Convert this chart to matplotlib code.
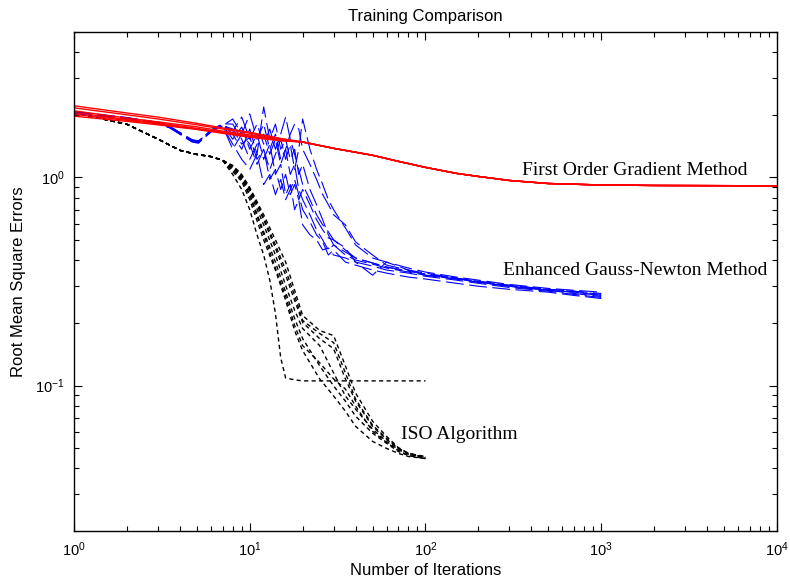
import matplotlib.pyplot as plt
from matplotlib.ticker import NullFormatter

plt.rcParams['font.family'] = ['Liberation Sans', 'DejaVu Sans']
plt.rcParams['mathtext.default'] = 'regular'

# ---- first order gradient method (red) ----
red_head_x = [1, 2, 3, 5, 7, 10, 15, 20]
red_runs_head = [
    [2.21, 2.04, 1.95, 1.82, 1.73, 1.65, 1.54, 1.48],
    [2.16, 2.00, 1.91, 1.79, 1.71, 1.63, 1.53, 1.48],
    [2.09, 1.93, 1.85, 1.75, 1.67, 1.60, 1.52, 1.48],
    [2.05, 1.90, 1.83, 1.72, 1.65, 1.58, 1.51, 1.48],
    [2.01, 1.88, 1.81, 1.71, 1.64, 1.57, 1.51, 1.48],
    [1.97, 1.86, 1.79, 1.70, 1.63, 1.56, 1.50, 1.48],
]
red_tail_x = [30, 50, 70, 100, 150, 200, 300, 500, 1000, 2000, 5000, 10000]
red_tail = [1.38, 1.278, 1.195, 1.118, 1.046, 1.011, 0.967, 0.935, 0.92, 0.915, 0.913, 0.912]

# ---- enhanced Gauss-Newton method (blue) ----
blue_x = [1, 2, 3, 3.5, 4.7, 5.1, 6, 7,
          8, 9, 10, 11, 12, 13, 14, 15, 16, 17, 18, 19, 20, 22, 24, 26, 28, 30,
          35, 40, 50, 60, 80, 100, 150, 200, 300, 500, 700, 1000]
blue_runs = [
    [2.06, 1.93, 1.83, 1.75, 1.49, 1.48, 1.67, 1.79,
     1.527, 1.746, 1.366, 1.615, 1.222, 1.445, 1.034, 1.156, 0.827, 0.925, 0.700, 0.782, 0.592,
     0.530, 0.501, 0.448, 0.458, 0.424, 0.410, 0.392, 0.375, 0.359, 0.347, 0.335, 0.321, 0.310,
     0.296, 0.284, 0.274, 0.265],
    [2.04, 1.92, 1.82, 1.74, 1.50, 1.47, 1.66, 1.77,
     1.909, 1.615, 2.018, 1.527, 1.805, 1.366, 1.615, 1.222, 1.366, 1.034, 1.156, 0.875, 0.782,
     0.662, 0.560, 0.501, 0.448, 0.474, 0.424, 0.401, 0.383, 0.367, 0.351, 0.339, 0.325, 0.314,
     0.300, 0.287, 0.281, 0.271],
    [2.07, 1.94, 1.84, 1.76, 1.51, 1.49, 1.68, 1.80,
     1.615, 1.366, 1.708, 1.292, 2.181, 1.527, 1.805, 1.366, 1.527, 1.222, 1.366, 1.034, 1.156,
     0.875, 0.740, 0.626, 0.530, 0.474, 0.438, 0.410, 0.388, 0.371, 0.355, 0.343, 0.328, 0.317,
     0.303, 0.290, 0.284, 0.277],
    [2.05, 1.93, 1.82, 1.73, 1.48, 1.46, 1.65, 1.78,
     1.708, 1.445, 1.561, 1.222, 1.366, 1.093, 1.292, 1.527, 1.222, 1.445, 1.093, 1.366, 1.909,
     1.366, 1.093, 0.925, 0.782, 0.700, 0.572, 0.474, 0.410, 0.392, 0.367, 0.351, 0.332, 0.321,
     0.306, 0.293, 0.287, 0.281],
    [2.06, 1.92, 1.83, 1.75, 1.50, 1.48, 1.67, 1.76,
     1.445, 1.222, 1.093, 1.292, 0.925, 1.034, 0.827, 0.978, 0.782, 0.875, 0.978, 0.827, 0.700,
     0.612, 0.530, 0.490, 0.424, 0.448, 0.392, 0.379, 0.359, 0.347, 0.332, 0.325, 0.310, 0.300,
     0.290, 0.281, 0.271, 0.262],
    [2.03, 1.91, 1.81, 1.74, 1.49, 1.47, 1.69, 1.81,
     1.805, 1.527, 1.222, 1.445, 1.615, 1.292, 1.527, 1.156, 1.366, 1.615, 1.805, 1.708, 1.366,
     1.156, 0.978, 0.827, 0.740, 0.662, 0.592, 0.490, 0.424, 0.379, 0.359, 0.347, 0.328, 0.317,
     0.303, 0.290, 0.284, 0.274],
    [2.05, 1.93, 1.84, 1.76, 1.52, 1.50, 1.66, 1.77,
     1.366, 1.615, 1.445, 1.156, 1.366, 0.978, 1.093, 0.875, 1.034, 0.827, 0.925, 0.782, 0.875,
     0.740, 0.626, 0.560, 0.512, 0.501, 0.458, 0.392, 0.339, 0.392, 0.359, 0.339, 0.325, 0.314,
     0.300, 0.287, 0.281, 0.271],
    [2.06, 1.94, 1.83, 1.74, 1.49, 1.48, 1.68, 1.79,
     1.670, 1.952, 1.527, 1.805, 1.445, 1.708, 1.366, 1.615, 1.952, 1.527, 1.292, 1.093, 0.925,
     0.782, 0.662, 0.592, 0.548, 0.501, 0.448, 0.410, 0.388, 0.371, 0.355, 0.343, 0.328, 0.314,
     0.300, 0.287, 0.277, 0.268],
]

# ---- ISO algorithm (black) ----
iso_head_x = [1, 2, 3, 4, 5, 6, 7]
iso_head = [2.05, 1.80, 1.53, 1.35, 1.29, 1.26, 1.21]

iso_stall_x = [8, 9, 10, 11, 12, 13, 14, 15, 16, 18, 20, 25, 30, 40, 50, 60, 70, 80, 100]
iso_stall = [1.034, 0.875, 0.700, 0.530, 0.424, 0.321, 0.222, 0.136, 0.1088, 0.1065,
             0.1053, 0.1053, 0.1053, 0.1053, 0.1053, 0.1053, 0.1053, 0.1053, 0.1053]

iso_x = [8, 9, 10, 12, 14, 16, 18, 20, 25, 30, 35, 40, 50, 60, 70, 80, 100]
iso_runs = [
    [1.069, 0.956, 0.782, 0.501, 0.359, 0.257, 0.1838, 0.1471, 0.1076, 0.0891, 0.0753,
     0.0637, 0.0539, 0.0499, 0.0472, 0.0456, 0.0446],
    [1.093, 0.978, 0.827, 0.548, 0.392, 0.281, 0.210, 0.168, 0.1244, 0.0996, 0.0842,
     0.0713, 0.0590, 0.0528, 0.0482, 0.0461, 0.0446],
    [1.118, 1.000, 0.855, 0.592, 0.424, 0.303, 0.230, 0.188, 0.1555, 0.115, 0.0891,
     0.0770, 0.0617, 0.0539, 0.0493, 0.0467, 0.0451],
    [1.143, 1.034, 0.895, 0.662, 0.501, 0.392, 0.287, 0.217, 0.1838, 0.1738, 0.1244,
     0.0921, 0.0674, 0.0570, 0.0504, 0.0472, 0.0451],
    [1.118, 1.011, 0.875, 0.626, 0.458, 0.339, 0.257, 0.201, 0.168, 0.1504, 0.1076,
     0.0842, 0.0637, 0.0551, 0.0499, 0.0472, 0.0456],
    [1.093, 0.978, 0.818, 0.530, 0.367, 0.268, 0.1943, 0.1555, 0.1287, 0.1076, 0.0963,
     0.0797, 0.0603, 0.0533, 0.0488, 0.0461, 0.0446],
    [1.130, 1.023, 0.885, 0.640, 0.474, 0.359, 0.271, 0.2055, 0.1778, 0.1608, 0.115,
     0.0861, 0.0645, 0.0558, 0.0499, 0.0472, 0.0451],
]

fig = plt.figure(figsize=(7.9, 5.87), dpi=100)
ax = fig.add_axes([0.0937, 0.0954, 0.8898, 0.8501])

iso_style = dict(color='black', lw=1.0, dashes=(3.0, 2.4))
ax.plot(iso_head_x + iso_stall_x, iso_head + iso_stall, **iso_style)
for run in iso_runs:
    ax.plot(iso_head_x + iso_x, iso_head + run, **iso_style)

for run in blue_runs:
    ax.plot(blue_x, run, color='blue', lw=0.8, dashes=(16, 5))

for run in red_runs_head:
    ax.plot(red_head_x + red_tail_x, run + red_tail, color='red', lw=1.0)

ax.set_xscale('log')
ax.set_yscale('log')
ax.set_xlim(1, 1e4)
ax.set_ylim(0.02, 5)
ax.xaxis.set_minor_formatter(NullFormatter())
ax.yaxis.set_minor_formatter(NullFormatter())
ax.tick_params(which='both', direction='in', top=True, right=True, labelsize=10.5)
ax.tick_params(which='major', length=6, width=0.8, pad=7)
ax.tick_params(which='minor', length=3.5, width=0.8)
for s in ax.spines.values():
    s.set_linewidth(1.0)

serif = ['Liberation Serif', 'DejaVu Serif']
ax.text(354, 1.081, 'First Order Gradient Method', family=serif, fontsize=14, va='center')
ax.text(276, 0.359, 'Enhanced Gauss-Newton Method', family=serif, fontsize=14, va='center')
ax.text(72.5, 0.0583, 'ISO Algorithm', family=serif, fontsize=14, va='center')

ax.set_title('Training Comparison', fontsize=12, pad=8)
ax.set_xlabel('Number of Iterations', fontsize=12, labelpad=3)
ax.set_ylabel('Root Mean Square Errors', fontsize=12, labelpad=6)

fig.savefig('out.png', dpi=100)
